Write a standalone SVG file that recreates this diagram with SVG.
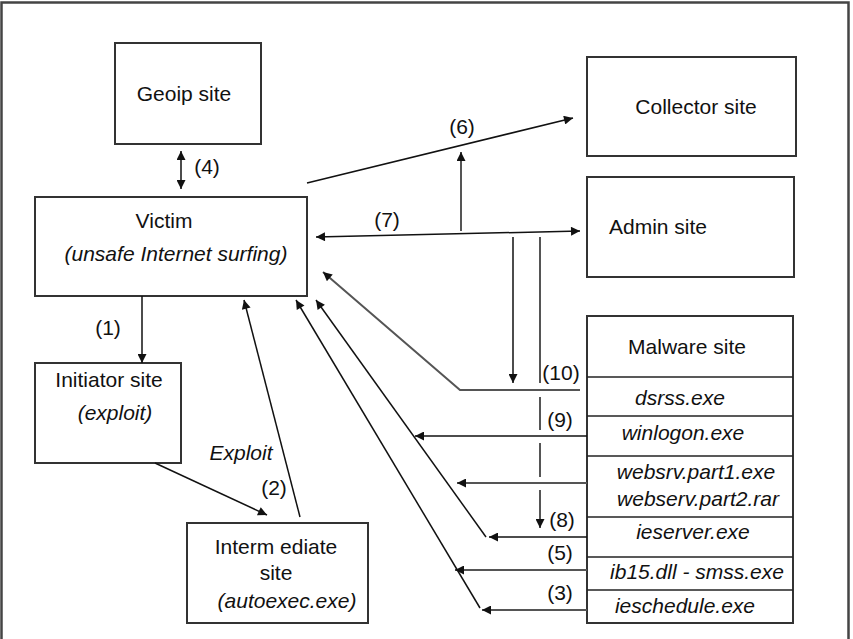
<svg xmlns="http://www.w3.org/2000/svg" width="853" height="639" viewBox="0 0 853 639">
<style>
text{font-family:"Liberation Sans",Arial,sans-serif;font-size:21px;fill:#111}
.it{font-style:italic}
.box{fill:#fff;stroke:#333;stroke-width:2}
.sep{stroke:#222;stroke-width:1.6}
.ln{fill:none;stroke:#111;stroke-width:1.5}
.gr{fill:none;stroke:#555;stroke-width:2}
</style>
<defs>
<marker id="ah" viewBox="0 0 10 10" refX="10" refY="5" markerWidth="12" markerHeight="9" markerUnits="userSpaceOnUse" orient="auto-start-reverse">
<path d="M0,0 L10,5 L0,10 z" fill="#111"/>
</marker>
</defs>
<rect x="1.5" y="2.5" width="847" height="660" fill="#fff" stroke="#444" stroke-width="2.5"/>

<g id="geoip"><rect class="box" x="115" y="43" width="146" height="101"/><text x="184" y="101" text-anchor="middle">Geoip site</text></g>
<g id="victim"><rect class="box" x="35" y="197" width="272" height="99"/><text x="164" y="228" text-anchor="middle">Victim</text><text class="it" x="176" y="261" text-anchor="middle">(unsafe Internet surfing)</text></g>
<g id="collector"><rect class="box" x="587" y="57" width="209" height="99"/><text x="696" y="114" text-anchor="middle">Collector site</text></g>
<g id="admin"><rect class="box" x="587" y="177" width="207" height="100"/><text x="609" y="234">Admin site</text></g>
<g id="initiator"><rect class="box" x="35" y="363" width="146" height="100"/><text x="109" y="387" text-anchor="middle">Initiator site</text><text class="it" x="115" y="420" text-anchor="middle">(exploit)</text></g>
<g id="intermediate"><rect class="box" x="187" y="523" width="181" height="100"/><text x="276" y="554" text-anchor="middle">Interm ediate</text><text x="276" y="580" text-anchor="middle">site</text><text class="it" x="287" y="608" text-anchor="middle">(autoexec.exe)</text></g>
<g id="malware">
<rect class="box" x="587" y="316" width="206" height="307"/>
<line class="sep" x1="587" y1="377" x2="793" y2="377"/>
<line class="sep" x1="587" y1="416" x2="793" y2="416"/>
<line class="sep" x1="587" y1="456" x2="793" y2="456"/>
<line class="sep" x1="587" y1="517" x2="793" y2="517"/>
<line class="sep" x1="587" y1="557" x2="793" y2="557"/>
<line class="sep" x1="587" y1="590" x2="793" y2="590" stroke-width="2.6"/>
<text x="687" y="354" text-anchor="middle">Malware site</text>
<text class="it" x="680" y="405" text-anchor="middle">dsrss.exe</text>
<text class="it" x="683" y="440" text-anchor="middle">winlogon.exe</text>
<text class="it" x="696" y="479" text-anchor="middle">websrv.part1.exe</text>
<text class="it" x="698" y="506" text-anchor="middle">webserv.part2.rar</text>
<text class="it" x="693" y="539" text-anchor="middle">ieserver.exe</text>
<text class="it" x="697" y="579" text-anchor="middle">ib15.dll - smss.exe</text>
<text class="it" x="685" y="613" text-anchor="middle">ieschedule.exe</text>
</g>

<g id="connectors">
<line class="ln" x1="181" y1="151" x2="181" y2="189" marker-start="url(#ah)" marker-end="url(#ah)"/>
<line class="ln" x1="307" y1="183" x2="573" y2="118" marker-end="url(#ah)"/>
<line class="gr" x1="461" y1="231" x2="461" y2="152" marker-end="url(#ah)"/>
<line class="ln" x1="316" y1="237" x2="580" y2="231" marker-start="url(#ah)" marker-end="url(#ah)"/>
<line class="ln" x1="513" y1="237" x2="513" y2="383" marker-end="url(#ah)"/>
<path class="gr" d="M540,237 V383 M540,397 V430 M540,443 V477"/>
<line class="gr" x1="540" y1="490" x2="540" y2="528" marker-end="url(#ah)"/>
<line class="ln" x1="142" y1="296" x2="142" y2="363" marker-end="url(#ah)"/>
<line class="ln" x1="155" y1="463" x2="267" y2="515" marker-end="url(#ah)"/>
<line class="ln" x1="300" y1="517" x2="244" y2="300" marker-end="url(#ah)"/>
<polyline class="gr" points="580,390 460,390 323,272" marker-end="url(#ah)"/>
<line class="ln" x1="587" y1="436" x2="415" y2="436" marker-end="url(#ah)"/>
<line class="gr" x1="587" y1="483" x2="457" y2="483" marker-end="url(#ah)"/>
<line class="ln" x1="587" y1="537" x2="489" y2="537" marker-end="url(#ah)"/>
<line class="ln" x1="486" y1="537" x2="316" y2="300" marker-end="url(#ah)"/>
<line class="gr" x1="587" y1="570" x2="455" y2="570" marker-end="url(#ah)"/>
<line class="gr" x1="587" y1="610" x2="482" y2="610" marker-end="url(#ah)"/>
<line class="ln" x1="480" y1="608" x2="296" y2="300" marker-end="url(#ah)"/>
</g>

<g id="labels">
<text x="207" y="174" text-anchor="middle">(4)</text>
<text x="462" y="134" text-anchor="middle">(6)</text>
<text x="387" y="227" text-anchor="middle">(7)</text>
<text x="108" y="335" text-anchor="middle">(1)</text>
<text class="it" x="241" y="460" text-anchor="middle">Exploit</text>
<text x="274" y="495" text-anchor="middle">(2)</text>
<text x="561" y="380" text-anchor="middle">(10)</text>
<text x="560" y="427" text-anchor="middle">(9)</text>
<text x="562" y="527" text-anchor="middle">(8)</text>
<text x="560" y="560" text-anchor="middle">(5)</text>
<text x="560" y="600" text-anchor="middle">(3)</text>
</g>
</svg>
